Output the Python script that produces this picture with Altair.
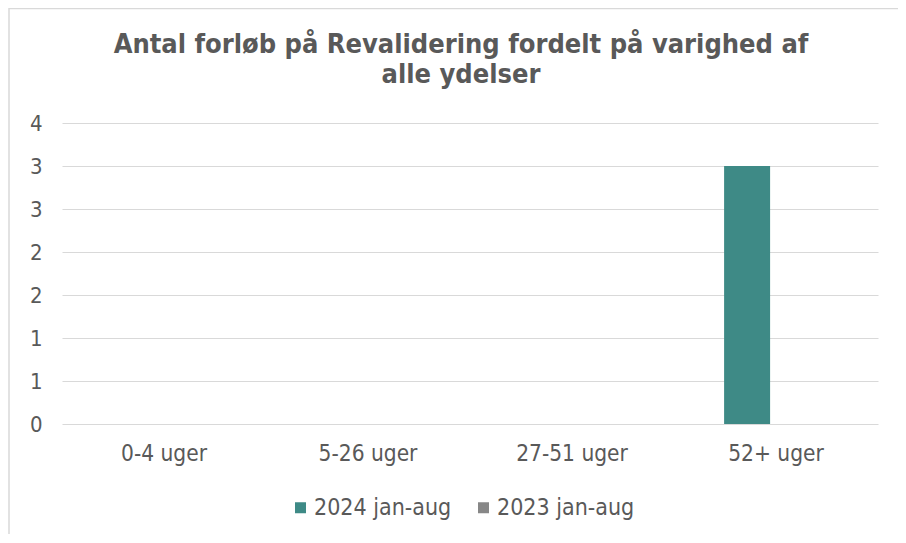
import altair as alt
import pandas as pd

categories = ["0-4 uger", "5-26 uger", "27-51 uger", "52+ uger"]
series_names = ["2024 jan-aug", "2023 jan-aug"]
values_2024 = [0, 0, 0, 3]
values_2023 = [0, 0, 0, 0]
y_ticks = [0, 0.5, 1, 1.5, 2, 2.5, 3, 3.5]
colors = ["#3e8a86", "#878787"]
title_lines = ["Antal forløb på Revalidering fordelt på varighed af", "alle ydelser"]

rows = []
for c, v in zip(categories, values_2024):
    rows.append({"kategori": c, "serie": series_names[0], "antal": v})
for c, v in zip(categories, values_2023):
    rows.append({"kategori": c, "serie": series_names[1], "antal": v})
df = pd.DataFrame(rows)

FONT = "DejaVu Sans Condensed, DejaVu Sans"
TXT = "#595959"

bars = alt.Chart(df).mark_bar().encode(
    x=alt.X("kategori:N", sort=categories,
            scale=alt.Scale(paddingInner=0.55, paddingOuter=0.275),
            axis=alt.Axis(title=None, labelAngle=0, ticks=False, domain=False,
                          labelPadding=18, labelFontSize=22.5, labelColor=TXT,
                          labelFont=FONT, grid=False)),
    xOffset=alt.XOffset("serie:N", sort=series_names,
                        scale=alt.Scale(domain=series_names, range=[-6, 86])),
    y=alt.Y("antal:Q", scale=alt.Scale(domain=[0, 3.5], nice=False),
            axis=alt.Axis(title=None, values=y_ticks, labelExpr="round(datum.value)",
                          ticks=False, domain=False, labelPadding=20, labelFontSize=22,
                          labelColor=TXT, labelFont=FONT, gridColor="#d9d9d9", gridWidth=1)),
    color=alt.Color("serie:N", sort=series_names,
                    scale=alt.Scale(domain=series_names, range=colors),
                    legend=alt.Legend(title=None, orient="none", legendX=227, legendY=373,
                                      direction="horizontal", symbolType="square",
                                      symbolSize=121, symbolStrokeWidth=0,
                                      labelFontSize=23, labelColor=TXT, labelFont=FONT,
                                      labelOffset=2, columnPadding=20)),
)

border = alt.Chart(pd.DataFrame({"a": [0]})).mark_rect(
    filled=False, stroke="#d9d9d9", strokeWidth=1.5, clip=False
).encode(x=alt.value(-53), x2=alt.value(900), y=alt.value(-114.5), y2=alt.value(418))

title = alt.Chart(pd.DataFrame({"a": [0]})).mark_text(
    font=FONT, fontSize=27, fontWeight="bold", color=TXT, align="center",
    baseline="alphabetic", lineHeight=30
).encode(x=alt.value(399), y=alt.value(-70), text=alt.value(title_lines))

chart = alt.layer(border, bars, title).properties(
    width=816, height=301,
    autosize=alt.AutoSizeParams(type="none"),
    padding={"left": 54, "top": 115, "right": 20, "bottom": 110},
).configure_view(stroke=None)

chart.save("out.html", embed_options={"renderer": "svg", "actions": False})
